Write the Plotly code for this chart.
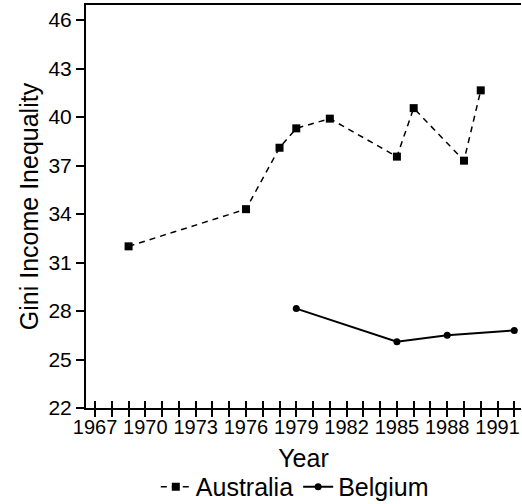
import plotly.graph_objects as go

# Data
aus_years = [1969, 1976, 1978, 1979, 1981, 1985, 1986, 1989, 1990]
aus_gini = [32.0, 34.3, 38.1, 39.3, 39.9, 37.55, 40.55, 37.3, 41.65]
bel_years = [1979, 1985, 1988, 1992]
bel_gini = [28.15, 26.1, 26.5, 26.8]

x_tick_years = [1967, 1968, 1969, 1970, 1971, 1972, 1973, 1974, 1975, 1976,
                1977, 1978, 1979, 1980, 1981, 1982, 1983, 1984, 1985, 1986,
                1987, 1988, 1989, 1990, 1991, 1992]
x_tick_labels = ["1967", "", "", "1970", "", "", "1973", "", "", "1976",
                 "", "", "1979", "", "", "1982", "", "", "1985", "",
                 "", "1988", "", "", "1991", ""]
y_tick_vals = [22, 25, 28, 31, 34, 37, 40, 43, 46]
y_tick_labels = ["22", "25", "28", "31", "34", "37", "40", "43", "46"]

FONT = "Liberation Sans, Arial, Helvetica, sans-serif"

fig = go.Figure()
fig.add_trace(go.Scatter(
    x=aus_years, y=aus_gini, name="Australia", mode="lines+markers",
    line=dict(color="black", width=1.5, dash="6px,5px"),
    marker=dict(symbol="square", size=8, color="black"),
))
fig.add_trace(go.Scatter(
    x=bel_years, y=bel_gini, name="Belgium", mode="lines+markers",
    line=dict(color="black", width=2),
    marker=dict(symbol="circle", size=7, color="black"),
))
# invisible helper trace to carry the outside-tick overlay axis
fig.add_trace(go.Scatter(
    x=bel_years, y=bel_gini, xaxis="x2", mode="lines",
    line=dict(color="rgba(0,0,0,0)"), showlegend=False, hoverinfo="skip",
))

xrange = [1966.46, 1992.4]
fig.update_layout(
    width=522, height=504,
    margin=dict(l=86, r=1, t=5, b=96, autoexpand=False),
    paper_bgcolor="white", plot_bgcolor="white",
    font=dict(family=FONT, color="black", size=20),
    showlegend=True,
    legend=dict(orientation="h", x=0.48, xanchor="center", y=-0.196, yanchor="middle",
                font=dict(size=25), itemwidth=30, tracegroupgap=0),
    xaxis=dict(
        range=xrange, tickmode="array", tickvals=x_tick_years, ticktext=x_tick_labels,
        ticks="inside", ticklen=7, tickwidth=1.5, tickcolor="black",
        showline=True, linewidth=2, linecolor="black", mirror=True,
        showgrid=False, zeroline=False, automargin=False,
        tickfont=dict(size=20),
        title=dict(text="Year", font=dict(size=25), standoff=12),
    ),
    xaxis2=dict(
        range=xrange, overlaying="x", anchor="y", side="bottom", matches="x",
        tickmode="array", tickvals=x_tick_years, ticktext=["" for _ in x_tick_years],
        ticks="outside", ticklen=8, tickwidth=1.5, tickcolor="black",
        showline=False, showgrid=False, zeroline=False, showticklabels=False,
        automargin=False,
    ),
    yaxis=dict(
        range=[22, 46.93], tickmode="array", tickvals=y_tick_vals, ticktext=y_tick_labels,
        ticks="outside", ticklen=8, tickwidth=1.5, tickcolor="black",
        showline=True, linewidth=2, linecolor="black",
        showgrid=False, zeroline=False, automargin=False,
        tickfont=dict(size=21),
        title=dict(text="Gini Income Inequality", font=dict(size=25), standoff=3),
    ),
)

fig.write_html(
    "out.html",
    config={"responsive": False, "displayModeBar": False},
    post_script="document.body.style.margin='0px';document.body.style.overflow='hidden';",
)
